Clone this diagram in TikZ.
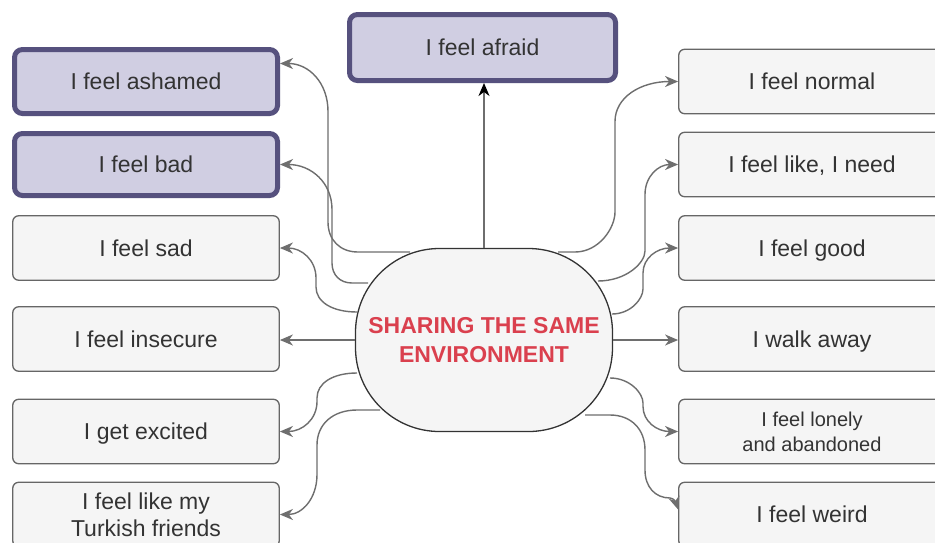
\documentclass[tikz,border=0pt]{standalone}
\usepackage{fontspec}
\setmainfont{Liberation Sans}
\usetikzlibrary{arrows.meta}
\definecolor{pfill}{HTML}{D0CEE2}
\definecolor{pdraw}{HTML}{56517E}
\definecolor{gfill}{HTML}{F5F5F5}
\definecolor{gdraw}{HTML}{666666}
\definecolor{txt}{HTML}{333333}
\definecolor{redtxt}{RGB}{218,64,78}
\definecolor{conncol}{HTML}{6E6E6E}
\begin{document}
\begin{tikzpicture}[x=1pt,y=-1pt,
  font=\fontsize{23}{27}\selectfont,
  box/.style={rectangle, rounded corners=6pt, draw=gdraw, fill=gfill, line width=1.3pt,
    minimum width=266.5pt, minimum height=64.5pt, inner sep=0pt, text=txt, align=center},
  pbox/.style={box, draw=pdraw, fill=pfill, line width=5pt, rounded corners=8pt,
    minimum width=263pt, minimum height=63pt},
  one/.style={text height=16.5pt, text depth=0pt},
  conn/.style={draw=conncol, line width=1.4pt, -{Stealth[length=13pt,width=11pt,inset=4pt]}},
  hub/.style={rectangle, draw=txt, fill=gfill, rounded corners=84pt, line width=1.3pt,
    minimum width=257pt, minimum height=183pt, inner sep=0pt,
    font=\bfseries\fontsize{23}{29}\selectfont, text=redtxt, align=center}]
\fill[white] (0,0) rectangle (935,542);
\useasboundingbox (0,0) rectangle (935,542);

% left column
\node[pbox, one, minimum height=64pt] (ash) at (146,81.5) {I feel ashamed};
\node[pbox, one, minimum height=62pt] (bad) at (146,164.5) {I feel bad};
\node[box, one] (sad) at (146,248) {I feel sad};
\node[box, one] (ins) at (146,339) {I feel insecure};
\node[box, one] (exc) at (146,431.5) {I get excited};
\node[box] (tur) at (146,514.5) {I feel like my\\Turkish friends};

% right column
\node[box, one] (nor) at (812,81.5) {I feel normal};
\node[box, one] (lik) at (812,164.5) {I feel like, I need};
\node[box, one] (goo) at (812,248) {I feel good};
\node[box, one] (wal) at (812,339) {I walk away};
\node[box, font=\fontsize{20}{25}\selectfont] (lon) at (812,431.5) {I feel lonely\\and abandoned};
\node[box, one] (wei) at (812,514.5) {I feel weird};

% top
\node[pbox, one, minimum width=266pt, minimum height=66pt] (afr) at (482.5,47.5) {I feel afraid};

% hub
\node[hub] (c) at (484,340) {SHARING THE SAME\\ENVIRONMENT};

% connectors left
\draw[conn] ([shift={(-74,-88)}]c.center) -- (358,252) .. controls (340,252) and (328,240) .. (328,222)
  -- (328,111.5) .. controls (328,82.7) and (308.8,63.5) .. ([shift={(0,-18)}]ash.east);
\draw[conn] ([shift={(-116,-57)}]c.center) -- (352,283) .. controls (340,283) and (332,275) .. (332,263)
  -- (332,209.5) .. controls (332,182.5) and (311,164.5) .. (bad.east);
\draw[conn] ([shift={(-127,-28)}]c.center) .. controls (332.4,312) and (316,302) .. (316,287)
  -- (316,278) .. controls (316,260) and (301.6,248) .. (sad.east);
\draw[conn] (c.west) -- (c.west -| ins.east);
\draw[conn] ([shift={(-127,33)}]c.center) .. controls (333,373) and (317,383) .. (317,398)
  -- (317,401.5) .. controls (317,419.5) and (302.2,431.5) .. (exc.east);
\draw[conn] ([shift={(-104,70)}]c.center) -- (357,410) .. controls (333,410) and (317,424) .. (317,445)
  -- (317,474.5) .. controls (317,498.5) and (302.2,514.5) .. (tur.east);

% connectors right
\draw[conn] ([shift={(74,-88)}]c.center) -- (575,252) .. controls (599,252) and (615,228) .. (615,212)
  -- (615,121.5) .. controls (615,97.5) and (640.2,81.5) .. (nor.west);
\draw[conn] ([shift={(114,-59)}]c.center) .. controls (626.2,281) and (645,263) .. (645,251)
  -- (645,194.5) .. controls (645,176.5) and (658.2,164.5) .. (lik.west);
\draw[conn] ([shift={(128,-26)}]c.center) .. controls (630.6,314) and (643,299) .. (643,289)
  -- (643,273) .. controls (643,258) and (657,248) .. (goo.west);
\draw[conn] (c.east) -- (c.east -| wal.west);
\draw[conn] ([shift={(126,38)}]c.center) .. controls (629.8,378) and (643,393) .. (643,403)
  -- (643,406.5) .. controls (643,421.5) and (657,431.5) .. (lon.west);
\draw[conn] ([shift={(101,75)}]c.center) -- (610,415) .. controls (631,415) and (645,429) .. (645,450)
  -- (645,470) .. controls (645,486.8) and (655,498) .. (670,498)
  .. controls (674,498) and (676,503) .. ([shift={(0,-5)}]wei.west);

% top arrow
\draw[draw=conncol, line width=1.4pt, -{Stealth[length=13pt,width=11pt,inset=4pt,color=black]}]
  (c.north) -- (c.north |- afr.south);
\end{tikzpicture}
\end{document}
